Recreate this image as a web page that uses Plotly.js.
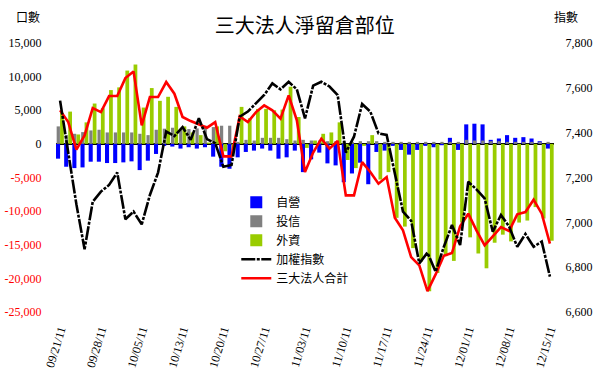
<!DOCTYPE html>
<html>
<head>
<meta charset="utf-8">
<script src="https://cdn.plot.ly/plotly-3.0.1.min.js"></script>
<style>
html,body{margin:0;padding:0;background:#fff;}
#chart{width:600px;height:386px;}
</style>
</head>
<body>
<div id="chart"></div>
<script>
// Trading days (categories)
const dates = [
"09/21/11","09/22/11","09/23/11","09/26/11","09/27/11","09/28/11","09/29/11","09/30/11","10/03/11","10/04/11",
"10/05/11","10/06/11","10/07/11","10/11/11","10/12/11","10/13/11","10/14/11","10/17/11","10/18/11","10/19/11",
"10/20/11","10/21/11","10/24/11","10/25/11","10/26/11","10/27/11","10/28/11","10/31/11","11/01/11","11/02/11",
"11/03/11","11/04/11","11/07/11","11/08/11","11/09/11","11/10/11","11/11/11","11/14/11","11/15/11","11/16/11",
"11/17/11","11/18/11","11/21/11","11/22/11","11/23/11","11/24/11","11/25/11","11/28/11","11/29/11","11/30/11",
"12/01/11","12/02/11","12/05/11","12/06/11","12/07/11","12/08/11","12/09/11","12/12/11","12/13/11","12/14/11",
"12/15/11"];

// 自營 (dealers)
const dealer = [
-2200,-3400,-3600,-3500,-2650,-2650,-2850,-2850,-2750,-2600,
-3900,-2500,-1500,-300,-400,-700,-500,-700,-500,-1900,
-3400,-3700,-2000,-1200,-1000,-700,-1000,-2200,-2000,-1000,
-4200,-2300,-1300,-2900,-3200,-5700,-4400,-2800,-6000,-1200,
-1000,-300,-900,-1600,-900,-300,-500,-200,900,-900,
2900,3000,2900,600,800,1300,900,1000,800,400,
-700];

// 投信 (investment trusts)
const trust = [
2600,1300,1500,1750,2000,2100,1700,1700,1700,1700,
1500,1300,2100,2260,2400,2100,2200,2300,2700,2500,
2700,2700,300,600,500,900,900,900,700,500,
600,500,500,400,400,400,300,400,400,400,
300,300,300,300,300,300,300,300,300,300,
600,500,500,400,400,300,300,300,300,300,
300];

// 外資 (foreign investors)
const foreign = [
4600,4800,1400,3200,6000,5300,8000,8400,10900,11800,
5400,8300,6400,7000,5500,2600,1700,1300,200,2600,
-1100,-900,5500,3800,5200,5200,5000,5100,8500,4000,
-600,500,1500,1700,3200,-2400,-3600,-300,1300,-5300,
-4200,-11000,-12300,-15500,-17500,-21900,-19200,-16700,-17400,-11700,
-13900,-16300,-18500,-14700,-13500,-14500,-11700,-11400,-9400,-11100,
-14400];

// 加權指數 (TAIEX)
const taiex = [
7543,7310,7080,6880,7092,7137,7167,7222,7014,7048,
6991,7122,7222,7405,7385,7425,7368,7464,7371,7353,
7248,7256,7471,7494,7531,7568,7620,7593,7627,7593,
7464,7610,7627,7606,7568,7311,7382,7528,7494,7397,
7390,7222,7048,7007,6817,6865,6780,6890,6988,6899,
7181,7147,7107,6958,7033,6981,6891,6948,6891,6914,
6758];

// 三大法人合計 (total)
const total = [
4980,3240,-860,1260,5320,4730,7110,7110,9780,10780,
2750,6960,6960,9190,7460,3990,3390,2900,2410,3240,
-1860,-1860,4090,3240,4730,5720,4980,3750,7210,3490,
-4190,-1300,770,-710,420,-7660,-7660,-2710,-4190,-5920,
-4930,-10970,-12860,-16830,-18070,-21890,-19410,-16650,-16240,-12270,
-10380,-12860,-15090,-13750,-12370,-12960,-10480,-10140,-8300,-10380,
-14840];

const seriesNames = ["自營","投信","外資","加權指數","三大法人合計"];
const xTickLabels = ["09/21/11","09/28/11","10/05/11","10/13/11","10/20/11","10/27/11","11/03/11","11/10/11","11/17/11","11/24/11","12/01/11","12/08/11","12/15/11"];
const leftTicks = [15000,10000,5000,0,-5000,-10000,-15000,-20000,-25000];
const rightTicks = [7800,7600,7400,7200,7000,6800,6600];

const fmt = v => v.toLocaleString('en-US');
const leftText = leftTicks.map(v => v < 0 ? '<span style="color:#ff0000">' + fmt(v) + '</span>' : fmt(v));

const serif = "Liberation Serif, Times New Roman, serif";
const cjk = "Noto Sans CJK TC, Noto Sans CJK SC, sans-serif";

const traces = [
  {type:'bar', name:seriesNames[0], x:dates, y:dealer, marker:{color:'#0000ff'}, width:0.5, offset:-0.5},
  {type:'bar', name:seriesNames[1], x:dates, y:trust, marker:{color:'#808080'}, width:0.4, offset:-0.42},
  {type:'bar', name:seriesNames[2], x:dates, y:foreign, marker:{color:'#99cc00'}, width:0.46, offset:0},
  {type:'scatter', mode:'lines', name:seriesNames[3], x:dates, y:taiex, yaxis:'y2',
   line:{color:'#000000', width:2.6, dash:'14px,1.5px,3px,1.5px'}},
  {type:'scatter', mode:'lines', name:seriesNames[4], x:dates, y:total,
   line:{color:'#ff0000', width:2.6}}
];

const layout = {
  width:600, height:386,
  margin:{l:56, r:46, t:43, b:74, pad:0},
  paper_bgcolor:'#ffffff', plot_bgcolor:'#ffffff',
  barmode:'overlay',
  showlegend:true,
  title:{text:'三大法人淨留倉部位', font:{family:cjk, size:20, color:'#000'},
         x:0.508, xanchor:'center', y:0.932, yanchor:'middle', xref:'container', yref:'container'},
  xaxis:{type:'category', range:[-0.5,60.5], tickmode:'array', tickvals:xTickLabels, ticktext:xTickLabels,
         tickangle:-73, tickfont:{family:serif, size:12, color:'#000'},
         showgrid:false, zeroline:false, showline:false, ticks:'outside', ticklen:5, tickcolor:'rgba(0,0,0,0)'},
  yaxis:{range:[-25000,15000], tickmode:'array', tickvals:leftTicks, ticktext:leftText,
         tickfont:{family:serif, size:12, color:'#000'},
         showgrid:false, zeroline:true, zerolinecolor:'#000', zerolinewidth:1.5, showline:false,
         ticks:'outside', ticklen:11, tickcolor:'rgba(0,0,0,0)'},
  yaxis2:{range:[6600,7800], overlaying:'y', side:'right', tickmode:'array', tickvals:rightTicks,
          ticktext:rightTicks.map(fmt), tickfont:{family:serif, size:12, color:'#000'},
          showgrid:false, zeroline:false, showline:false, ticks:'outside', ticklen:8, tickcolor:'rgba(0,0,0,0)'},
  legend:{x:0.362, y:0.462, xanchor:'left', yanchor:'top', bgcolor:'rgba(0,0,0,0)',
          font:{family:cjk, size:12, color:'#000'}, tracegroupgap:0, itemwidth:30, traceorder:'normal'},
  annotations:[
    {text:'口數', xref:'paper', yref:'paper', x:-0.056, y:1.10, showarrow:false, xanchor:'center', yanchor:'middle',
     font:{family:cjk, size:12, color:'#000'}},
    {text:'指數', xref:'paper', yref:'paper', x:1.024, y:1.10, showarrow:false, xanchor:'center', yanchor:'middle',
     font:{family:cjk, size:12, color:'#000'}}
  ]
};

Plotly.newPlot('chart', traces, layout, {displayModeBar:false, staticPlot:true});
</script>
</body>
</html>
